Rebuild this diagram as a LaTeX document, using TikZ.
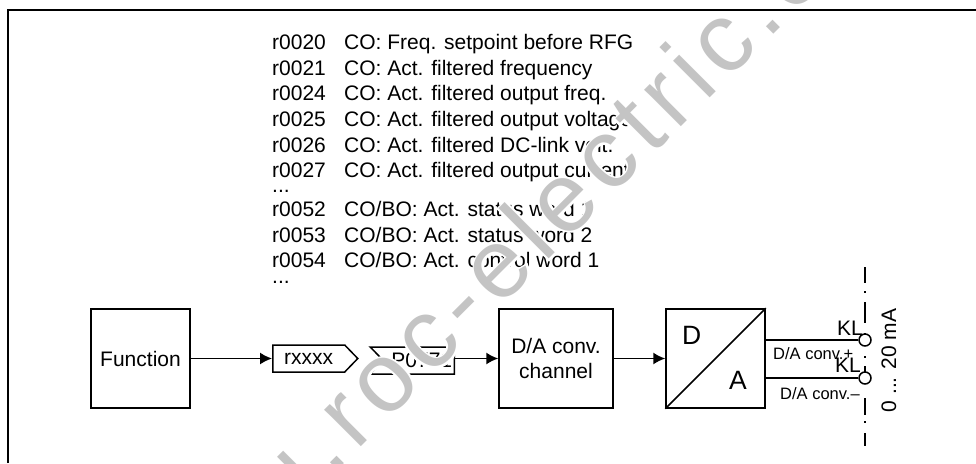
\documentclass[tikz,border=0pt]{standalone}
\usepackage{fontspec}
\setmainfont{Liberation Sans}
\newfontfamily\wmfont[LetterSpace=8.7]{Liberation Sans}
\newfontfamily\wmhalofont[LetterSpace=8.7,FakeBold=4]{Liberation Sans}
\usetikzlibrary{shapes.symbols,arrows.meta,positioning,calc}
\definecolor{WM}{HTML}{C4C4C4}
\tikzset{
  block/.style={draw,line width=1.5pt,minimum width=#1,minimum height=99pt,inner sep=0pt,align=center,font=\fontsize{21}{25.5}\selectfont},
  sig/.style={-{Latex[length=12pt,width=12pt]},line width=1.5pt},
  wire/.style={line width=1.5pt},
  lbl/.style={inner sep=0pt,anchor=base west,font=\fontsize{21}{24}\selectfont},
  small/.style={inner sep=0pt,anchor=base west,font=\fontsize{16.5}{18}\selectfont},
  bigl/.style={inner sep=0pt,anchor=base west,font=\fontsize{26.5}{28}\selectfont},
  tag/.style={signal,draw,line width=1.5pt,inner sep=0pt,minimum height=27pt,font=\fontsize{21}{24}\selectfont},
  term/.style={circle,draw,fill=white,line width=1.5pt,minimum size=12pt,inner sep=0pt},
  wmtext/.style={inner sep=0pt,rotate=45,anchor=base west}
}
\begin{document}
\begin{tikzpicture}[x=1pt,y=-1pt]
  \useasboundingbox (0,0) rectangle (976,463);
  \clip (0,0) rectangle (976,463);
  \foreach \y/\pnum/\ptxt in {49.3/r0020/{CO: Freq. setpoint before RFG},
      75/r0021/{CO: Act. filtered frequency},
      100.7/r0024/{CO: Act. filtered output freq.},
      126.7/r0025/{CO: Act. filtered output voltage},
      152/r0026/{CO: Act. filtered DC-link volt.},
      177.7/r0027/{CO: Act. filtered output current},
      216.7/r0052/{CO/BO: Act. status word 1},
      242.3/r0053/{CO/BO: Act. status word 2},
      267.7/r0054/{CO/BO: Act. control word 1}}{
    \node[lbl] (\pnum) at (272,\y) {\pnum};
    \node[lbl] (t\pnum) at (344,\y) {\ptxt};
  }
  \node[lbl] (dotsa) at (272,192.7) {...};
  \node[lbl] (dotsb) at (272,283) {...};

  \node[block=99pt] (func) at (140.5,358.5) {Function};
  \node[block=114pt] (conv) at (556,358.5) {D/A conv.\\channel};
  \node[block=99pt] (dab) at (715.5,358.5) {};
  \draw[wire] (dab.south west) -- (dab.north east);
  \node[bigl] (dd) at (682,344) {D};
  \node[bigl] (aa) at (729,389) {A};

  \node[tag,signal to=east,signal from=nowhere,signal pointer angle=92,minimum width=85pt,anchor=west] (rx) at (272,358.5) {rxxxx\hspace{13pt}};
  \node[tag,signal from=west,signal to=nowhere,signal pointer angle=92,minimum width=84pt,anchor=east] (par) at (455,360.5) {\hspace{6pt}P0771};
  \draw[sig] (func.east |- rx.west) -- (rx.west);
  \draw[sig] (par.east |- conv.west) -- (conv.west);
  \draw[sig] (conv.east) -- (dab.west);

  \foreach \a/\b in {267/283,291/293,302/323,333/335,356/358,366/372,398/415,421/423,433/446}{
    \draw[line width=2pt] (865,\a) -- (865,\b);
  }
  \node[term] (kla) at (865,340) {};
  \node[term] (klb) at (865,378) {};
  \draw[wire] (dab.east |- kla) -- (kla);
  \draw[wire] (dab.east |- klb) -- (klb);
  \node[lbl] (kltxa) at (837,335) {KL};
  \node[lbl] (kltxb) at (835,372) {KL};
  \node[small] (txa) at (773,359) {D/A conv.+};
  \node[small] (txb) at (780,399) {D/A conv.--};
  \node[lbl,rotate=90] (range) at (896,412.5) {0 ... 20 mA};

  \node[wmtext,white,font=\wmhalofont\fontsize{98}{98}\selectfont]
    (wmhalo) at (286.5,521.5) {u.roc-electric.c};
  \node[wmtext,WM,font=\wmfont\fontsize{98}{98}\selectfont]
    (wmark) at (286.5,521.5) {u.roc-electric.c};

  \draw[line width=2.2pt] (8,463) coordinate (fra) -- (8,10) coordinate (frb) -- (976,10) coordinate (frc);
\end{tikzpicture}
\end{document}
